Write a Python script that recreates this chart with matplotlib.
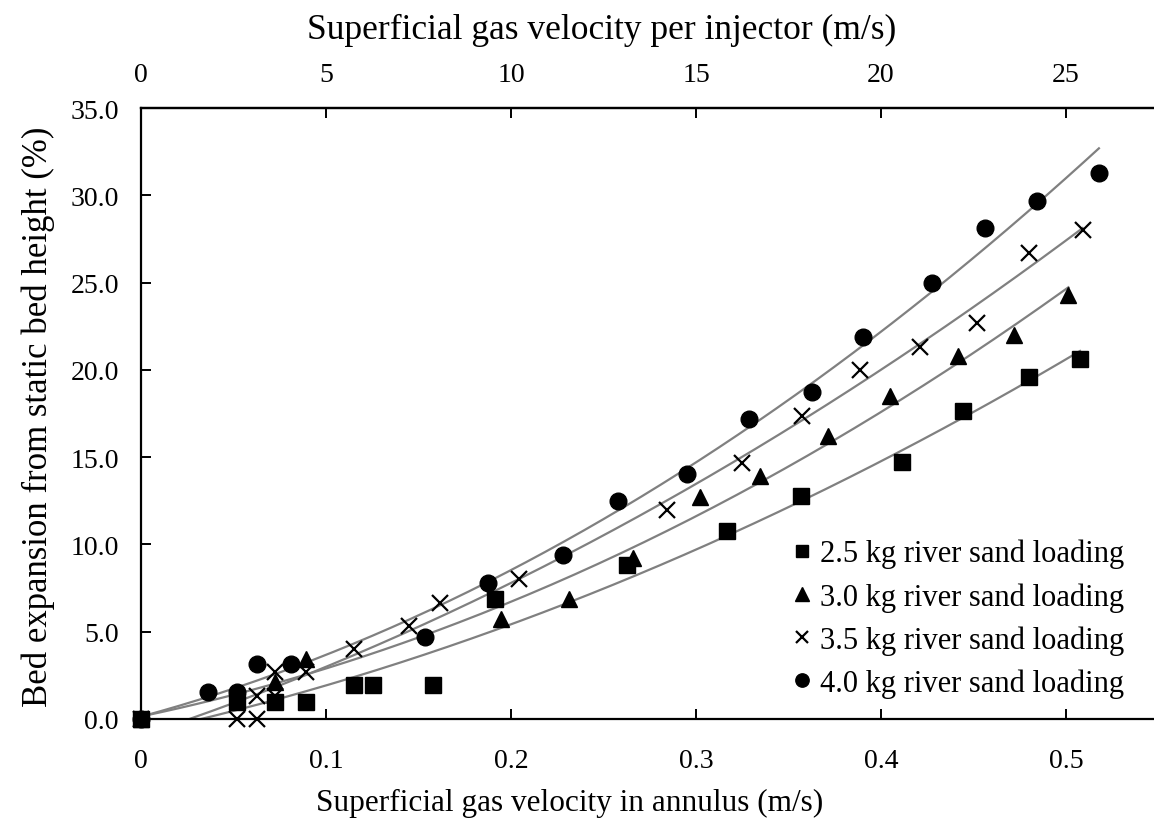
import matplotlib
matplotlib.use("Agg")
import matplotlib.pyplot as plt
import numpy as np

plt.rcParams["font.family"] = ["Liberation Serif", "DejaVu Serif"]

# ── data ─────────────────────────────────────────────────────────
x_25 = [0, 0.0517, 0.0724, 0.089, 0.1151, 0.1252, 0.1577, 0.1914, 0.2629,
        0.3166, 0.357, 0.4112, 0.4445, 0.480, 0.5076]
y_25 = [0, 0.98, 0.98, 0.98, 1.96, 1.96, 1.96, 6.86, 8.82,
        10.78, 12.75, 14.7, 17.65, 19.6, 20.6]

x_30 = [0, 0.0724, 0.089, 0.1944, 0.2314, 0.2658, 0.3022, 0.3346, 0.3715,
        0.4049, 0.4418, 0.472, 0.5013]
y_30 = [0, 2.1, 3.45, 5.75, 6.9, 9.2, 12.7, 13.9, 16.2,
        18.5, 20.8, 22.0, 24.3]

x_35 = [0, 0.0517, 0.0625, 0.0625, 0.0724, 0.0724, 0.089, 0.1151, 0.145,
        0.1616, 0.2045, 0.2845, 0.3247, 0.3571, 0.3886, 0.4211, 0.452,
        0.480, 0.509]
y_35 = [0, 0, 0, 1.33, 1.33, 2.67, 2.67, 4.0, 5.33,
        6.67, 8.0, 12.0, 14.67, 17.33, 20.0, 21.33, 22.67,
        26.67, 28.0]

x_40 = [0, 0.0364, 0.0517, 0.0625, 0.0811, 0.1535, 0.1877, 0.2283, 0.258,
        0.2953, 0.3288, 0.3625, 0.3901, 0.4274, 0.4562, 0.4841, 0.5178]
y_40 = [0, 1.56, 1.56, 3.13, 3.13, 4.69, 7.81, 9.38, 12.5,
        14.06, 17.19, 18.75, 21.88, 25.0, 28.13, 29.69, 31.25]

labels = ["2.5 kg river sand loading", "3.0 kg river sand loading",
          "3.5 kg river sand loading", "4.0 kg river sand loading"]

x_ticks = [0, 0.1, 0.2, 0.3, 0.4, 0.5]
x_ticklabels = ["0", "0.1", "0.2", "0.3", "0.4", "0.5"]
y_ticks = [0, 5, 10, 15, 20, 25, 30, 35]
top_ticks = [0, 5, 10, 15, 20, 25]

series = [(x_25, y_25, "s", 11), (x_30, y_30, "^", 12),
          (x_35, y_35, "x", 11), (x_40, y_40, "o", 12)]

fig = plt.figure(figsize=(11.54, 8.28), dpi=100)
ax = fig.add_axes([141 / 1154, 108 / 828, 1013 / 1154, 611 / 828])

for (xs, ys, mk, ms), lab in zip(series, labels):
    xs = np.array(xs)
    ys = np.array(ys)
    # 2nd order trend line over the data range
    coef = np.polyfit(xs, ys, 2)
    xf = np.linspace(0, xs.max(), 200)
    ax.plot(xf, np.polyval(coef, xf), color="#808080", lw=1.6, zorder=2)
    mew = 1.6 if mk == "x" else 1.0
    ax.plot(xs, ys, ls="none", marker=mk, ms=ms, mew=mew, color="black",
            label=lab, zorder=3, clip_on=False)

ax.set_xlim(0, 1013 / 1850)
ax.set_ylim(0, 35)
ax.set_xticks(x_ticks)
ax.set_xticklabels(x_ticklabels)
ax.set_yticks(y_ticks)
ax.set_yticklabels([f"{v:.1f}" for v in y_ticks])

for s in ("left", "bottom", "top"):
    ax.spines[s].set_linewidth(1.6)
ax.spines["right"].set_visible(False)
ax.tick_params(axis="both", direction="in", length=7, width=1.4,
               labelsize=20, top=False, right=False)
ax.tick_params(axis="y", pad=16)
ax.tick_params(axis="x", pad=21)

top = ax.secondary_xaxis("top", functions=(lambda v: v * 50, lambda v: v / 50))
top.set_xticks(top_ticks)
top.set_xticklabels([str(t) for t in top_ticks])
top.tick_params(direction="in", length=7, width=1.4, labelsize=20, pad=15)
top.spines["top"].set_linewidth(1.6)
fig.text(602 / 1154, 1 - 30 / 828, "Superficial gas velocity per injector (m/s)",
         fontsize=25.5, ha="center", va="center")

ax.set_xlabel("Superficial gas velocity in annulus (m/s)", fontsize=22.5)
ax.xaxis.set_label_coords(0.4235, -0.112)
ax.set_ylabel("Bed expansion from static bed height (%)", fontsize=25)
ax.yaxis.set_label_coords(-0.085, 0.496)

ax.legend(loc="upper left", bbox_to_anchor=(0.6436, 0.295), frameon=False,
          fontsize=22, handlelength=0.6, handletextpad=0.3,
          labelspacing=0.45, markerscale=0.8, borderaxespad=0, borderpad=0)

fig.savefig("out.png", dpi=100, facecolor="white")
